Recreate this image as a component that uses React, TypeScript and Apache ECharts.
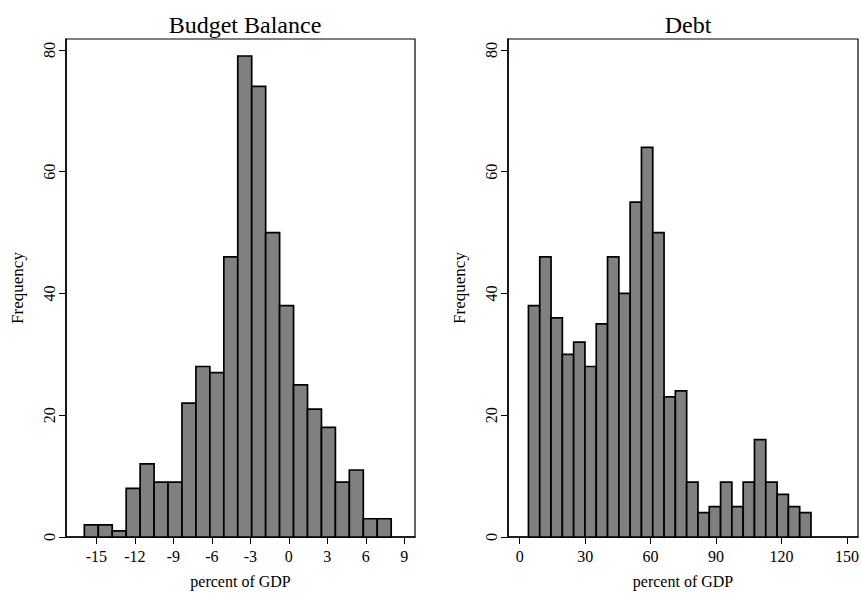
import React, { useEffect, useRef } from "react";
import * as echarts from "echarts";

// Budget Balance histogram
const bbCounts = [2, 2, 1, 8, 12, 9, 9, 22, 28, 27, 46, 79, 74, 50, 38, 25, 21, 18, 9, 11, 3, 3];
const bbStart = -15.94;
const bbWidth = 1.087;
const bbTicks = [-15, -12, -9, -6, -3, 0, 3, 6, 9];

// Debt histogram
const debtCounts = [38, 46, 36, 30, 32, 28, 35, 46, 40, 55, 64, 50, 23, 24, 9, 4, 5, 9, 5, 9, 16, 9, 7, 5, 4];
const debtStart = 4.0;
const debtWidth = 5.18;
const debtTicks = [0, 30, 60, 90, 120, 150];

const yTicks = [0, 20, 40, 60, 80];

const FONT = "'Liberation Serif', 'Times New Roman', serif";

function toBins(counts: number[], start: number, width: number) {
  return counts.map((c, i) => [start + i * width, start + (i + 1) * width, c]);
}

const renderBar = (params: any, api: any) => {
  const x0 = api.value(0);
  const x1 = api.value(1);
  const y = api.value(2);
  const p0 = api.coord([x0, 0]);
  const p1 = api.coord([x1, y]);
  return {
    type: "rect",
    shape: { x: p0[0], y: p1[1], width: p1[0] - p0[0], height: p0[1] - p1[1] },
    style: { fill: "#808080", stroke: "#000", lineWidth: 1.7 },
  };
};

export default function App() {
  const ref = useRef<HTMLDivElement>(null);
  useEffect(() => {
    if (!ref.current) return;
    const chart = echarts.init(ref.current, undefined, { renderer: "svg" });
    const xAxisCommon = (ticks: number[]) => ({
      type: "value",
      name: "percent of GDP",
      nameLocation: "middle",
      nameGap: 36,
      nameTextStyle: { fontFamily: FONT, fontSize: 16, color: "#000" },
      axisLine: { show: true, onZero: false, lineStyle: { color: "#000", width: 1.5 } },
      axisTick: { show: true, length: 7, customValues: ticks, lineStyle: { color: "#000" } },
      axisLabel: { customValues: ticks, margin: 11, fontFamily: FONT, fontSize: 16, color: "#000" },
      splitLine: { show: false },
    });
    const yAxisCommon = (gridIndex: number) => ({
      type: "value",
      gridIndex,
      min: 0,
      max: 81.79,
      name: "Frequency",
      nameLocation: "middle",
      nameGap: 40,
      nameRotate: 90,
      nameTextStyle: { fontFamily: FONT, fontSize: 17, color: "#000" },
      axisLine: { show: true, onZero: false, lineStyle: { color: "#000", width: 1.5 } },
      axisTick: { show: true, length: 7, customValues: yTicks, lineStyle: { color: "#000" } },
      axisLabel: { customValues: yTicks, rotate: 90, margin: 9, fontFamily: FONT, fontSize: 16, color: "#000" },
      splitLine: { show: false },
    });
    chart.setOption({
      animation: false,
      backgroundColor: "#fff",
      title: [
        {
          text: "Budget Balance",
          left: 240,
          top: 8,
          textAlign: "center",
          textStyle: { fontFamily: FONT, fontSize: 24, fontWeight: "normal", color: "#000" },
        },
        {
          text: "Debt",
          left: 683,
          top: 8,
          textAlign: "center",
          textStyle: { fontFamily: FONT, fontSize: 24, fontWeight: "normal", color: "#000" },
        },
      ],
      grid: [
        { left: 66, top: 39, width: 349, height: 502, show: true, borderColor: "#000", borderWidth: 1.2, backgroundColor: "#fff" },
        { left: 508, top: 39, width: 350, height: 502, show: true, borderColor: "#000", borderWidth: 1.2, backgroundColor: "#fff" },
      ],
      xAxis: [
        { ...xAxisCommon(bbTicks), gridIndex: 0, min: -17.37, max: 9.83 },
        { ...xAxisCommon(debtTicks), gridIndex: 1, min: -5.37, max: 155.05 },
      ],
      yAxis: [yAxisCommon(0), yAxisCommon(1)],
      series: [
        {
          type: "custom",
          xAxisIndex: 0,
          yAxisIndex: 0,
          renderItem: renderBar,
          encode: { x: [0, 1], y: 2 },
          data: toBins(bbCounts, bbStart, bbWidth),
        },
        {
          type: "custom",
          xAxisIndex: 1,
          yAxisIndex: 1,
          renderItem: renderBar,
          encode: { x: [0, 1], y: 2 },
          data: toBins(debtCounts, debtStart, debtWidth),
        },
      ],
    });
    return () => chart.dispose();
  }, []);
  return (
    <div
      ref={ref}
      style={{ position: "fixed", left: 0, top: 0, width: 862, height: 594, background: "#fff" }}
    />
  );
}
